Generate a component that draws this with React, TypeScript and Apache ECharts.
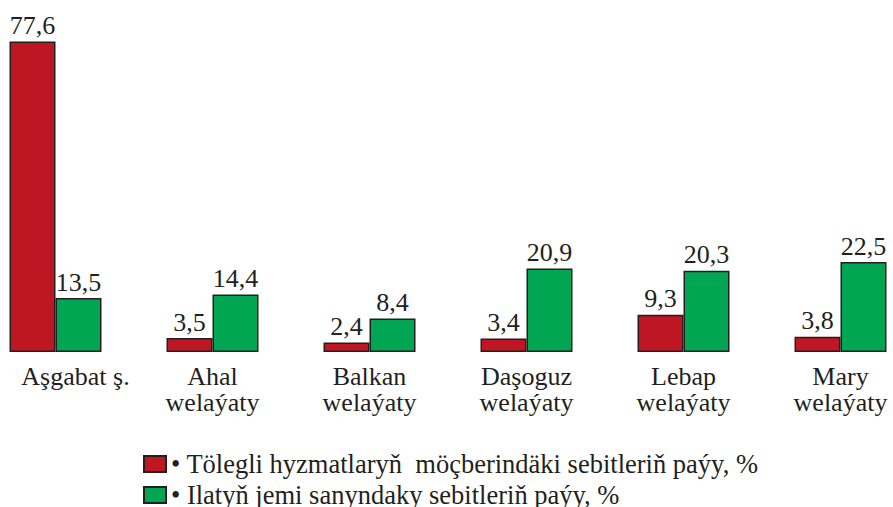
import React, { useEffect, useRef } from "react";
import * as echarts from "echarts";

const categories = ["Aşgabat ş.", "Ahal\nwelaýaty", "Balkan\nwelaýaty", "Daşoguz\nwelaýaty", "Lebap\nwelaýaty", "Mary\nwelaýaty"];
const paidShare = [77.6, 3.5, 2.4, 3.4, 9.3, 3.8];
const populationShare = [13.5, 14.4, 8.4, 20.9, 20.3, 22.5];
const seriesNames = [
  "Tölegli hyzmatlaryň  möçberindäki sebitleriň paýy, %",
  "Ilatyň jemi sanyndaky sebitleriň paýy, %",
];

const FONT = "'Liberation Serif', 'DejaVu Serif', serif";
const INK = "#231F20";

export default function App() {
  const ref = useRef<HTMLDivElement>(null);
  useEffect(() => {
    const chart = echarts.init(ref.current!, undefined, { renderer: "svg" });
    const label = {
      show: true,
      position: "top" as const,
      distance: 3,
      fontSize: 26,
      fontFamily: FONT,
      color: INK,
      formatter: (p: any) => String(p.value).replace(".", ","),
    };
    const legendBase = {
      orient: "vertical" as const,
      left: 143,
      itemWidth: 22,
      itemHeight: 16,
      icon: "rect",
      padding: 0,
      textStyle: { fontSize: 26.5, lineHeight: 28, fontFamily: FONT, color: INK },
      formatter: (n: string) => "• " + n,
    };
    const axisData = categories.map((c, i) =>
      i === 0 ? { value: c, textStyle: { padding: [0, 0, 0, 40] } } : c
    );
    chart.setOption({
      animation: false,
      backgroundColor: "#ffffff",
      grid: { left: -23, right: -26, top: 32, bottom: 155, outerBoundsMode: "none", containLabel: false },
      xAxis: {
        type: "category",
        data: axisData,
        axisLine: { show: false },
        axisTick: { show: false },
        axisLabel: { fontSize: 26, lineHeight: 26, fontFamily: FONT, color: INK, margin: 11, interval: 0 },
      },
      yAxis: { type: "value", min: 0, max: 80, show: false, splitLine: { show: false } },
      legend: [
        { ...legendBase, top: 450, data: [seriesNames[0]] },
        { ...legendBase, top: 481, data: [seriesNames[1]] },
      ],
      series: [
        {
          name: seriesNames[0],
          type: "bar",
          data: paidShare,
          barWidth: 46,
          barGap: "0%",
          itemStyle: { color: "#BE1622", borderColor: INK, borderWidth: 1.5 },
          label,
        },
        {
          name: seriesNames[1],
          type: "bar",
          data: populationShare,
          barWidth: 46,
          itemStyle: { color: "#00A651", borderColor: INK, borderWidth: 1.5 },
          label,
        },
      ],
    });
    return () => chart.dispose();
  }, []);
  return <div ref={ref} style={{ width: 893, height: 507, position: "absolute", left: 0, top: 0 }} />;
}
